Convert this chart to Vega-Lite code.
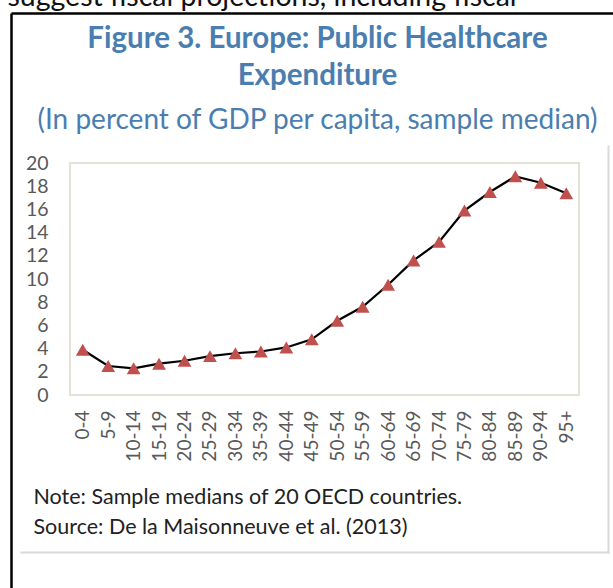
{
  "$schema": "https://vega.github.io/schema/vega-lite/v6.json",
  "autosize": "none",
  "width": 509,
  "height": 232,
  "padding": {"left": 70, "top": 163, "right": 34, "bottom": 193},
  "background": "white",
  "config": {
    "font": "Lato",
    "view": {"stroke": "#e4e1d6", "strokeWidth": 2}
  },
  "title": {
    "text": ["Figure 3. Europe: Public Healthcare", "Expenditure"],
    "subtitle": "(In percent of GDP per capita, sample median)",
    "frame": "group",
    "anchor": "middle",
    "orient": "top",
    "dx": -7,
    "offset": -154,
    "font": "Lato",
    "fontSize": 29.5,
    "fontWeight": "bold",
    "color": "#4a7eb0",
    "lineHeight": 37,
    "subtitleFont": "Lato",
    "subtitleFontSize": 28,
    "subtitleColor": "#4a7eb0",
    "subtitlePadding": 16
  },
  "resolve": {
    "scale": {"x": "independent", "y": "independent"},
    "axis": {"x": "independent", "y": "independent"}
  },
  "layer": [
    {
      "data": {
        "values": [
          {"age": "0-4", "value": 3.9},
          {"age": "5-9", "value": 2.5},
          {"age": "10-14", "value": 2.3},
          {"age": "15-19", "value": 2.7},
          {"age": "20-24", "value": 2.95},
          {"age": "25-29", "value": 3.35},
          {"age": "30-34", "value": 3.6},
          {"age": "35-39", "value": 3.75},
          {"age": "40-44", "value": 4.1},
          {"age": "45-49", "value": 4.8},
          {"age": "50-54", "value": 6.4},
          {"age": "55-59", "value": 7.6},
          {"age": "60-64", "value": 9.5},
          {"age": "65-69", "value": 11.6},
          {"age": "70-74", "value": 13.2},
          {"age": "75-79", "value": 15.9},
          {"age": "80-84", "value": 17.5},
          {"age": "85-89", "value": 18.85},
          {"age": "90-94", "value": 18.3},
          {"age": "95+", "value": 17.4}
        ]
      },
      "encoding": {
        "x": {
          "field": "age",
          "type": "ordinal",
          "sort": null,
          "scale": {"type": "point", "padding": 0.5},
          "axis": {
            "orient": "bottom",
            "labelAngle": 270,
            "labelFont": "Lato",
            "labelFontSize": 19,
            "labelColor": "#595959",
            "labelPadding": 15,
            "labelOverlap": false,
            "ticks": false,
            "domain": false,
            "grid": false,
            "title": ["Note: Sample medians of 20 OECD countries.", "Source: De la Maisonneuve et al. (2013)"],
            "titleAnchor": "start",
            "titleAlign": "left",
            "titleBaseline": "alphabetic",
            "titleX": -37,
            "titleY": 108,
            "titleFont": "Lato",
            "titleFontSize": 21.5,
            "titleFontWeight": "normal",
            "titleColor": "#222222",
            "titleLineHeight": 30
          }
        },
        "y": {
          "field": "value",
          "type": "quantitative",
          "scale": {"domain": [0, 20], "nice": false, "zero": true},
          "axis": {
            "orient": "left",
            "values": [0, 2, 4, 6, 8, 10, 12, 14, 16, 18, 20],
            "labelFont": "Lato",
            "labelFontSize": 19.5,
            "labelColor": "#595959",
            "labelPadding": 22,
            "labelOverlap": false,
            "labelFlush": false,
            "labelBound": false,
            "ticks": false,
            "domain": false,
            "grid": false,
            "title": null
          }
        }
      },
      "layer": [
        {"mark": {"type": "line", "color": "black", "strokeWidth": 2.2}},
        {"mark": {"type": "point", "shape": "triangle-up", "filled": true, "color": "#c0504d", "opacity": 1, "size": 190}}
      ]
    },
    {
      "data": {"values": [{"k": 0}]},
      "mark": {"type": "point", "opacity": 0},
      "encoding": {
        "x": {
          "datum": 0,
          "type": "quantitative",
          "scale": {"domain": [0, 1], "range": [-59, 545]},
          "axis": {
            "orient": "top",
            "offset": 150,
            "domainColor": "black",
            "domainWidth": 2.5,
            "ticks": false,
            "labels": false,
            "grid": false,
            "title": "suggest fiscal projections, including fiscal",
            "titleAnchor": "start",
            "titleAlign": "left",
            "titleBaseline": "alphabetic",
            "titleX": -63,
            "titleY": -8,
            "titleFont": "Lato",
            "titleFontSize": 28.5,
            "titleFontWeight": "normal",
            "titleColor": "#111111"
          }
        },
        "y": {
          "datum": 0,
          "type": "quantitative",
          "scale": {"domain": [0, 1], "range": [430, -150]},
          "axis": {
            "orient": "left",
            "offset": 59,
            "domainColor": "black",
            "domainWidth": 2.5,
            "ticks": false,
            "labels": false,
            "grid": false,
            "title": null
          }
        }
      }
    },
    {
      "data": {"values": [{"k": 0}]},
      "mark": {"type": "point", "opacity": 0},
      "encoding": {
        "x": {
          "datum": 0,
          "type": "quantitative",
          "scale": {"domain": [0, 1], "range": [-50, 539]},
          "axis": {
            "orient": "bottom",
            "offset": 157,
            "domainColor": "#d9d9d9",
            "domainWidth": 2,
            "ticks": false,
            "labels": false,
            "grid": false,
            "title": null
          }
        },
        "y": {
          "datum": 0,
          "type": "quantitative",
          "scale": {"domain": [0, 1], "range": [390, -18]},
          "axis": {
            "orient": "right",
            "offset": 29,
            "domainColor": "#d9d9d9",
            "domainWidth": 2,
            "ticks": false,
            "labels": false,
            "grid": false,
            "title": null
          }
        }
      }
    }
  ]
}
